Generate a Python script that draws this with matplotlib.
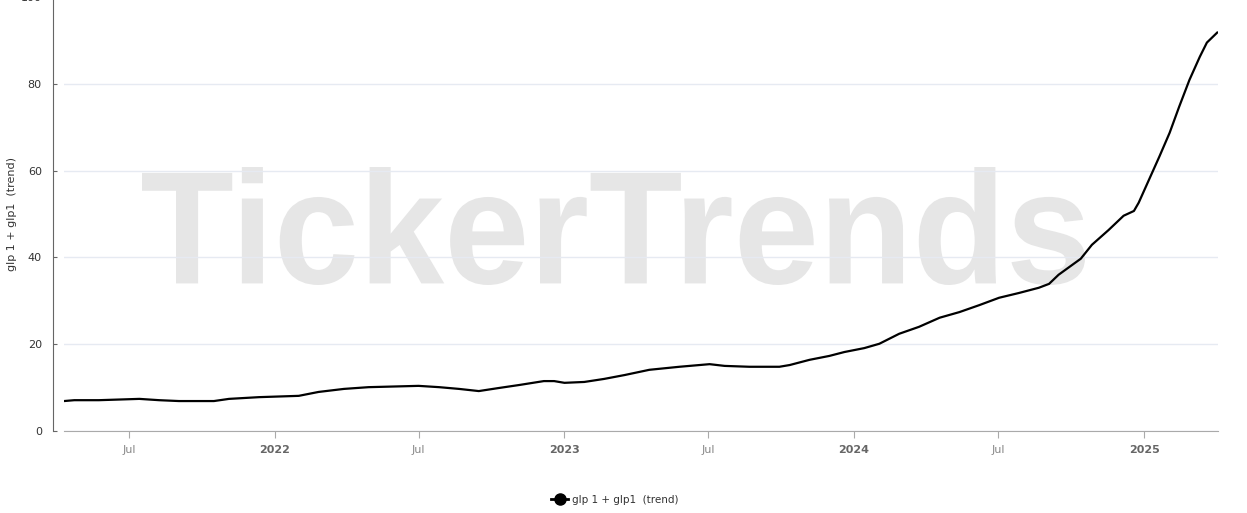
import numpy as np
import pandas as pd
import matplotlib
matplotlib.use("Agg")
import matplotlib.pyplot as plt
import matplotlib.dates as mdates
from matplotlib.lines import Line2D
from matplotlib.textpath import TextPath
from matplotlib.patches import PathPatch
from matplotlib.font_manager import FontProperties
from matplotlib.transforms import Affine2D

dates = [
    "2021-04-10", "2021-04-23", "2021-05-24", "2021-07-14", "2021-08-08", "2021-09-02",
    "2021-10-16", "2021-11-04", "2021-12-12", "2022-01-31", "2022-02-25", "2022-03-29",
    "2022-04-29", "2022-07-01", "2022-07-27", "2022-08-21", "2022-09-15", "2022-10-10",
    "2022-11-05", "2022-12-06", "2022-12-19", "2023-01-01", "2023-01-26", "2023-02-20",
    "2023-03-18", "2023-04-18", "2023-05-26", "2023-07-03", "2023-07-22", "2023-08-22",
    "2023-09-29", "2023-10-12", "2023-11-06", "2023-12-01", "2023-12-20", "2024-01-14",
    "2024-02-02", "2024-02-27", "2024-03-23", "2024-04-18", "2024-05-13", "2024-06-07",
    "2024-07-02", "2024-07-27", "2024-08-21", "2024-09-03", "2024-09-15", "2024-10-13",
    "2024-10-27", "2024-11-17", "2024-12-06", "2024-12-19", "2024-12-25", "2025-01-07",
    "2025-01-20", "2025-02-02", "2025-02-14", "2025-02-27", "2025-03-12", "2025-03-21",
    "2025-04-03",
]
trend = [
    6.9, 7.1, 7.1, 7.4, 7.1, 6.9,
    6.9, 7.4, 7.8, 8.1, 9.0, 9.7,
    10.1, 10.4, 10.1, 9.7, 9.2, 9.9,
    10.6, 11.5, 11.5, 11.1, 11.3, 12.0,
    12.9, 14.1, 14.8, 15.4, 15.0, 14.8,
    14.8, 15.2, 16.4, 17.3, 18.2, 19.1,
    20.1, 22.4, 24.0, 26.1, 27.4, 29.0,
    30.7, 31.8, 33.0, 33.9, 36.0, 39.7,
    42.9, 46.3, 49.6, 50.7, 52.6, 57.9,
    63.2, 68.7, 74.7, 80.9, 86.2, 89.5,
    91.8,
]
series_name = "glp 1 + glp1  (trend)"
y_ticks = [0, 20, 40, 60, 80, 100]

W, H = 1247, 513
fig = plt.figure(figsize=(W / 100, H / 100), dpi=100)
ax = fig.add_axes([64 / W, (H - 431) / H, (1218 - 64) / W, 434 / H])
ax.set_facecolor("none")

# watermark, stretched to the box it covers in the reference
fp = FontProperties(family="Liberation Sans", weight="bold")
tp = TextPath((0, 0), "TickerTrends", size=100, prop=fp)
ext = tp.get_extents()
x0, x1, ytop, ybase = 142, 1085, 167, 285
sx = (x1 - x0) / ext.width
sy = (ybase - ytop) / ext.height
tr = Affine2D().translate(-ext.x0, -ext.y0).scale(sx, sy).translate(x0, H - ybase)
wm = PathPatch(tr.transform_path(tp), facecolor="#e6e6e6", edgecolor="none",
               transform=None, zorder=-1)
fig.patches.append(wm)
wm.set_figure(fig)

x = pd.to_datetime(dates)
ax.plot(x, trend, color="black", lw=1.6, zorder=3)

ax.set_xlim(pd.Timestamp("2021-04-10"), pd.Timestamp("2025-04-04"))
ax.set_ylim(0, 100)
ax.set_yticks(y_ticks)
ax.yaxis.grid(True, color="#e6eaf2", lw=1)
ax.set_axisbelow(True)

for s in ["top", "right"]:
    ax.spines[s].set_visible(False)
ax.spines["left"].set_position(("outward", 8))
ax.spines["left"].set_color("#666666")
ax.spines["bottom"].set_color("#aaaaaa")
ax.tick_params(axis="y", direction="in", length=3, color="#666666",
               labelsize=8, labelcolor="#333333", pad=8)

xt = pd.to_datetime(["2021-07-01", "2022-01-01", "2022-07-01", "2023-01-01",
                     "2023-07-01", "2024-01-01", "2024-07-01", "2025-01-01"])
ax.set_xticks(xt)
ax.set_xticklabels([d.strftime("%Y") if d.month == 1 else "Jul" for d in xt])
ax.tick_params(axis="x", direction="out", length=5, color="#aaaaaa",
               labelsize=8, pad=5)
for lab, d in zip(ax.get_xticklabels(), xt):
    if d.month == 1:
        lab.set_fontweight("bold")
        lab.set_color("#666666")
    else:
        lab.set_color("#888888")

fig.text(12 / W, 1 - 214 / H, series_name, rotation=90, ha="center", va="center",
         fontsize=8, color="#333333")

handle = Line2D([], [], color="black", lw=2, marker="o", markersize=8)
fig.legend([handle], [series_name], loc="center", bbox_to_anchor=(615 / W, 1 - 500 / H),
           frameon=False, fontsize=7.5, handlelength=1.6, handletextpad=0.4,
           labelcolor="#333333")

fig.savefig("out.png", dpi=100)
